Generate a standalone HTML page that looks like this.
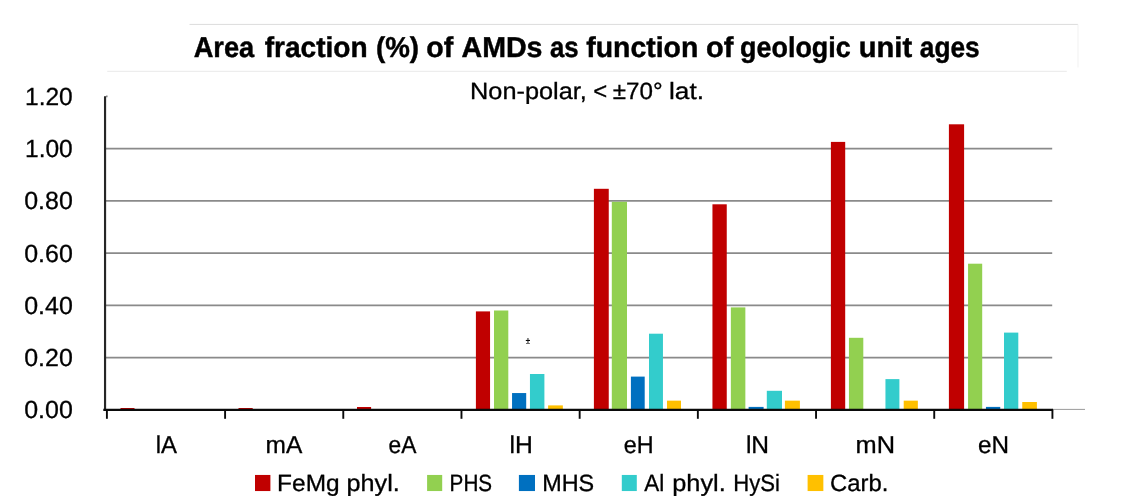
<!DOCTYPE html>
<html><head><meta charset="utf-8"><title>Area fraction of AMDs</title>
<style>html,body{margin:0;padding:0;background:#fff;overflow:hidden}svg{display:block;will-change:transform}text{font-family:"Liberation Sans",sans-serif;fill:#000;text-rendering:geometricPrecision}</style></head><body>
<svg width="1122" height="503" viewBox="0 0 1122 503">
<rect width="1122" height="503" fill="#fff"/>
<line x1="189.5" y1="24.4" x2="1078" y2="24.4" stroke="#dcdcdc" stroke-width="1"/>
<line x1="1078" y1="24.4" x2="1078" y2="67.5" stroke="#f1f1f1" stroke-width="1"/>
<line x1="107.2" y1="71.3" x2="1066.8" y2="71.3" stroke="#e9e9e9" stroke-width="1"/>
<line x1="106" y1="357.56" x2="1052.2" y2="357.56" stroke="#8a8a8a" stroke-width="1.7"/>
<line x1="106" y1="305.32" x2="1052.2" y2="305.32" stroke="#8a8a8a" stroke-width="1.7"/>
<line x1="106" y1="253.08" x2="1052.2" y2="253.08" stroke="#8a8a8a" stroke-width="1.7"/>
<line x1="106" y1="200.84" x2="1052.2" y2="200.84" stroke="#8a8a8a" stroke-width="1.7"/>
<line x1="106" y1="148.60" x2="1052.2" y2="148.60" stroke="#8a8a8a" stroke-width="1.7"/>
<line x1="106" y1="96.36" x2="107.6" y2="96.36" stroke="#8a8a8a" stroke-width="1.7"/>
<line x1="1052" y1="409.40000000000003" x2="1085" y2="409.40000000000003" stroke="#808080" stroke-width="0.8"/>
<rect x="120.5" y="408.0" width="14.00" height="1.80" fill="#C00000"/>
<rect x="238.5" y="408.0" width="14.20" height="1.80" fill="#C00000"/>
<rect x="357.0" y="407.0" width="14.10" height="2.80" fill="#C00000"/>
<rect x="475.9" y="311.4" width="14.15" height="98.40" fill="#C00000"/>
<rect x="494.0" y="310.5" width="14.30" height="99.30" fill="#92D050"/>
<rect x="512.05" y="393.05" width="14.15" height="16.75" fill="#0070C0"/>
<rect x="529.95" y="374.0" width="14.45" height="35.80" fill="#33CCCC"/>
<rect x="548.1" y="405.4" width="14.75" height="4.40" fill="#FFC000"/>
<rect x="593.9" y="188.8" width="14.85" height="221.00" fill="#C00000"/>
<rect x="611.8" y="201.8" width="15.20" height="208.00" fill="#92D050"/>
<rect x="630.9" y="376.6" width="13.80" height="33.20" fill="#0070C0"/>
<rect x="649.0" y="333.7" width="13.95" height="76.10" fill="#33CCCC"/>
<rect x="667.0" y="400.65" width="14.00" height="9.15" fill="#FFC000"/>
<rect x="712.45" y="204.3" width="14.30" height="205.50" fill="#C00000"/>
<rect x="730.85" y="307.4" width="14.50" height="102.40" fill="#92D050"/>
<rect x="748.6" y="406.9" width="15.00" height="2.90" fill="#0070C0"/>
<rect x="766.8" y="390.8" width="15.20" height="19.00" fill="#33CCCC"/>
<rect x="784.9" y="400.65" width="15.00" height="9.15" fill="#FFC000"/>
<rect x="830.9" y="141.9" width="14.30" height="267.90" fill="#C00000"/>
<rect x="848.95" y="337.8" width="14.35" height="72.00" fill="#92D050"/>
<rect x="885.45" y="379.1" width="13.95" height="30.70" fill="#33CCCC"/>
<rect x="903.7" y="400.65" width="14.15" height="9.15" fill="#FFC000"/>
<rect x="948.9" y="124.3" width="15.20" height="285.50" fill="#C00000"/>
<rect x="968.05" y="263.7" width="14.15" height="146.10" fill="#92D050"/>
<rect x="985.95" y="406.9" width="14.30" height="2.90" fill="#0070C0"/>
<rect x="1004.0" y="332.6" width="14.30" height="77.20" fill="#33CCCC"/>
<rect x="1022.25" y="402.0" width="14.65" height="7.80" fill="#FFC000"/>
<line x1="105.05" y1="96.3" x2="105.05" y2="410.85" stroke="#262626" stroke-width="2.15"/>
<line x1="103.3" y1="409.8" x2="1053.1" y2="409.8" stroke="#0a0a0a" stroke-width="2.2"/>
<line x1="106.90" y1="409.8" x2="106.90" y2="418.8" stroke="#0a0a0a" stroke-width="1.9"/>
<line x1="225.09" y1="409.8" x2="225.09" y2="418.8" stroke="#0a0a0a" stroke-width="1.9"/>
<line x1="343.28" y1="409.8" x2="343.28" y2="418.8" stroke="#0a0a0a" stroke-width="1.9"/>
<line x1="461.47" y1="409.8" x2="461.47" y2="418.8" stroke="#0a0a0a" stroke-width="1.9"/>
<line x1="579.66" y1="409.8" x2="579.66" y2="418.8" stroke="#0a0a0a" stroke-width="1.9"/>
<line x1="697.85" y1="409.8" x2="697.85" y2="418.8" stroke="#0a0a0a" stroke-width="1.9"/>
<line x1="816.04" y1="409.8" x2="816.04" y2="418.8" stroke="#0a0a0a" stroke-width="1.9"/>
<line x1="934.23" y1="409.8" x2="934.23" y2="418.8" stroke="#0a0a0a" stroke-width="1.9"/>
<line x1="1052.42" y1="409.8" x2="1052.42" y2="418.8" stroke="#0a0a0a" stroke-width="1.9"/>
<text transform="translate(193.64,56.70) scale(0.9465,1)" font-size="28.8" font-weight="bold" stroke="#000" stroke-width="0.45">Area</text>
<text transform="translate(264.66,56.70) scale(0.9753,1)" font-size="28.8" font-weight="bold" stroke="#000" stroke-width="0.45">fraction</text>
<text transform="translate(375.93,56.70) scale(0.9619,1)" font-size="28.8" font-weight="bold" stroke="#000" stroke-width="0.45">(%)</text>
<text transform="translate(426.33,56.70) scale(0.9914,1)" font-size="28.8" font-weight="bold" stroke="#000" stroke-width="0.45">of</text>
<text transform="translate(461.51,56.70) scale(0.9922,1)" font-size="28.8" font-weight="bold" stroke="#000" stroke-width="0.45">AMDs</text>
<text transform="translate(549.97,56.70) scale(0.8933,1)" font-size="28.8" font-weight="bold" stroke="#000" stroke-width="0.45">as</text>
<text transform="translate(586.26,56.70) scale(0.9861,1)" font-size="28.8" font-weight="bold" stroke="#000" stroke-width="0.45">function</text>
<text transform="translate(706.02,56.70) scale(1.0067,1)" font-size="28.8" font-weight="bold" stroke="#000" stroke-width="0.45">of</text>
<text transform="translate(740.10,56.70) scale(0.9340,1)" font-size="28.8" font-weight="bold" stroke="#000" stroke-width="0.45">geologic</text>
<text transform="translate(858.78,56.70) scale(1.0114,1)" font-size="28.8" font-weight="bold" stroke="#000" stroke-width="0.45">unit</text>
<text transform="translate(919.85,56.70) scale(0.9116,1)" font-size="28.8" font-weight="bold" stroke="#000" stroke-width="0.45">ages</text>
<text transform="translate(470.03,99.30) scale(1.0775,1)" font-size="23.5" stroke="#000" stroke-width="0.3">Non-polar,</text>
<text transform="translate(593.21,99.30) scale(1.0174,1)" font-size="23.5" stroke="#000" stroke-width="0.3">&lt;</text>
<text transform="translate(612.68,99.30) scale(1.0314,1)" font-size="23.5" stroke="#000" stroke-width="0.3">±70°</text>
<text transform="translate(669.03,99.30) scale(1.1186,1)" font-size="23.5" stroke="#000" stroke-width="0.3">lat.</text>
<text transform="translate(24.24,418.40) scale(1.0054,1)" font-size="24.8" stroke="#000" stroke-width="0.3">0.00</text>
<text transform="translate(24.24,366.16) scale(1.0054,1)" font-size="24.8" stroke="#000" stroke-width="0.3">0.20</text>
<text transform="translate(24.24,313.92) scale(1.0054,1)" font-size="24.8" stroke="#000" stroke-width="0.3">0.40</text>
<text transform="translate(24.24,261.68) scale(1.0054,1)" font-size="24.8" stroke="#000" stroke-width="0.3">0.60</text>
<text transform="translate(24.24,209.44) scale(1.0054,1)" font-size="24.8" stroke="#000" stroke-width="0.3">0.80</text>
<text transform="translate(24.99,157.20) scale(0.9895,1)" font-size="24.8" stroke="#000" stroke-width="0.3">1.00</text>
<text transform="translate(24.99,104.96) scale(0.9895,1)" font-size="24.8" stroke="#000" stroke-width="0.3">1.20</text>
<text transform="translate(155.76,453.35) scale(0.9800,1)" font-size="24.4" stroke="#000" stroke-width="0.3">lA</text>
<text transform="translate(265.52,453.35) scale(1.0036,1)" font-size="24.4" stroke="#000" stroke-width="0.3">mA</text>
<text transform="translate(388.52,453.35) scale(0.9322,1)" font-size="24.4" stroke="#000" stroke-width="0.3">eA</text>
<text transform="translate(509.51,453.35) scale(1.0116,1)" font-size="24.4" stroke="#000" stroke-width="0.3">lH</text>
<text transform="translate(623.79,453.35) scale(0.9558,1)" font-size="24.4" stroke="#000" stroke-width="0.3">eH</text>
<text transform="translate(745.91,453.35) scale(1.0065,1)" font-size="24.4" stroke="#000" stroke-width="0.3">lN</text>
<text transform="translate(855.56,453.35) scale(1.0415,1)" font-size="24.4" stroke="#000" stroke-width="0.3">mN</text>
<text transform="translate(978.06,453.35) scale(0.9947,1)" font-size="24.4" stroke="#000" stroke-width="0.3">eN</text>
<text transform="translate(277.10,491.20) scale(1.0402,1)" font-size="23.5" stroke="#000" stroke-width="0.3">FeMg</text>
<text transform="translate(346.54,491.20) scale(1.0717,1)" font-size="23.5" stroke="#000" stroke-width="0.3">phyl.</text>
<text transform="translate(449.60,491.20) scale(0.8793,1)" font-size="23.5" stroke="#000" stroke-width="0.3">PHS</text>
<text transform="translate(542.18,491.20) scale(0.9949,1)" font-size="23.5" stroke="#000" stroke-width="0.3">MHS</text>
<text transform="translate(644.33,491.20) scale(0.9558,1)" font-size="23.5" stroke="#000" stroke-width="0.3">Al</text>
<text transform="translate(672.23,491.20) scale(1.0783,1)" font-size="23.5" stroke="#000" stroke-width="0.3">phyl.</text>
<text transform="translate(733.19,491.20) scale(0.9409,1)" font-size="23.5" stroke="#000" stroke-width="0.3">HySi</text>
<text transform="translate(829.98,491.20) scale(1.0143,1)" font-size="23.5" stroke="#000" stroke-width="0.3">Carb.</text>
<line x1="527.95" y1="338.1" x2="527.95" y2="343.0" stroke="#6a6a6a" stroke-width="1.5"/>
<line x1="525.8" y1="340.45" x2="530.0" y2="340.45" stroke="#0a0a0a" stroke-width="1.05"/>
<line x1="526.0" y1="343.5" x2="529.9" y2="343.5" stroke="#6a6a6a" stroke-width="1.0"/>
<rect x="255.0" y="474.95" width="15.40" height="16.1" fill="#C00000"/>
<rect x="427.1" y="474.95" width="15.10" height="16.1" fill="#92D050"/>
<rect x="518.9" y="474.95" width="16.10" height="16.1" fill="#0070C0"/>
<rect x="621.8" y="474.95" width="15.00" height="16.1" fill="#33CCCC"/>
<rect x="807.6" y="474.95" width="15.75" height="16.1" fill="#FFC000"/>
</svg></body></html>
